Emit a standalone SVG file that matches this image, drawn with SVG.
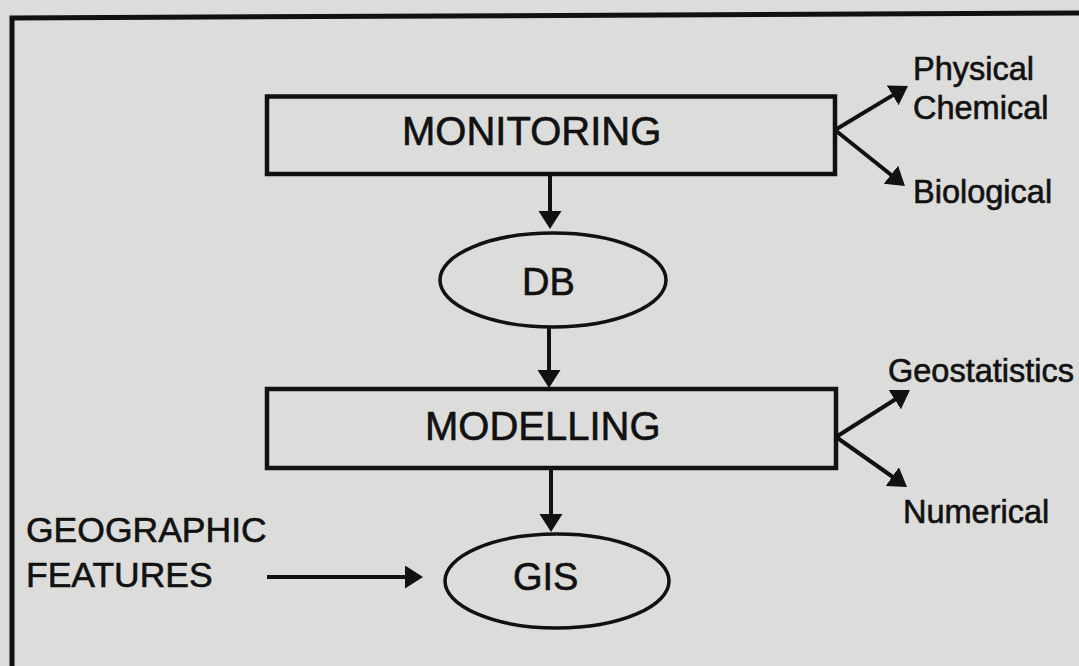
<svg xmlns="http://www.w3.org/2000/svg" width="1079" height="666" viewBox="0 0 1079 666">
  <style>
    .bg { fill: #dcdcda; }
    .frame { fill: none; stroke: #111; stroke-width: 5; }
    .box { fill: none; stroke: #111; stroke-width: 4.5; }
    .oval { fill: none; stroke: #111; stroke-width: 3.5; }
    .conn { fill: none; stroke: #111; stroke-width: 4; }
    text { font-family: "Liberation Sans", Arial, sans-serif; fill: #111; stroke: #111; stroke-width: 0.6; }
    .big { font-size: 40px; }
    .mid { font-size: 38px; }
    .side { font-size: 32.5px; }
    .left { font-size: 35.5px; }
  </style>
  <defs>
    <marker id="arrow" markerUnits="userSpaceOnUse" markerWidth="22" markerHeight="26" refX="12" refY="11.5" orient="auto">
      <path d="M0,0 L18,11.5 L0,23 z" fill="#111"/>
    </marker>
  </defs>
  <rect class="bg" x="0" y="0" width="1079" height="666"/>
  <path class="frame" d="M12,666 L12,18 L1079,13"/>

  <g id="monitoring">
    <rect class="box" x="267" y="96.5" width="568" height="77.5"/>
    <text class="big" x="402" y="145">MONITORING</text>
  </g>
  <g id="db">
    <ellipse class="oval" cx="553" cy="280" rx="113" ry="47"/>
    <text class="mid" x="522" y="295">DB</text>
  </g>
  <g id="modelling">
    <rect class="box" x="267" y="389" width="569" height="79"/>
    <text class="big" x="425" y="440">MODELLING</text>
  </g>
  <g id="gis">
    <ellipse class="oval" cx="557" cy="581" rx="112" ry="47"/>
    <text class="mid" x="513" y="590">GIS</text>
  </g>
  <g id="geographic">
    <text class="left" x="26" y="542">GEOGRAPHIC</text>
    <text class="left" x="26" y="587">FEATURES</text>
  </g>
  <g id="physical-chemical">
    <text class="side" x="913" y="80">Physical</text>
    <text class="side" x="913" y="119">Chemical</text>
  </g>
  <g id="biological">
    <text class="side" x="913" y="203">Biological</text>
  </g>
  <g id="geostatistics">
    <text class="side" x="888" y="382">Geostatistics</text>
  </g>
  <g id="numerical">
    <text class="side" x="903" y="523">Numerical</text>
  </g>

  <g id="connectors">
    <line class="conn" x1="550" y1="176" x2="550" y2="223" marker-end="url(#arrow)"/>
    <line class="conn" x1="549" y1="327" x2="549" y2="382" marker-end="url(#arrow)"/>
    <line class="conn" x1="551" y1="470" x2="551" y2="526" marker-end="url(#arrow)"/>
    <line class="conn" x1="267" y1="577" x2="417" y2="577" marker-end="url(#arrow)"/>
    <line class="conn" x1="835" y1="130" x2="902.9" y2="89.1" marker-end="url(#arrow)"/>
    <line class="conn" x1="835" y1="130" x2="900.3" y2="182.2" marker-end="url(#arrow)"/>
    <line class="conn" x1="836" y1="437" x2="904.9" y2="393.2" marker-end="url(#arrow)"/>
    <line class="conn" x1="836" y1="437" x2="902.1" y2="483.5" marker-end="url(#arrow)"/>
  </g>
</svg>
